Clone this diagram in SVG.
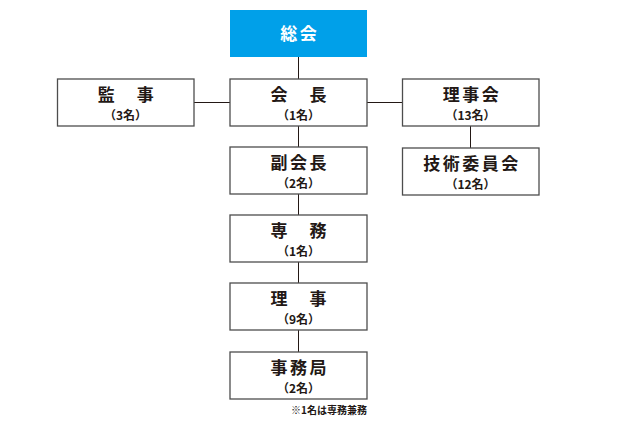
<svg xmlns="http://www.w3.org/2000/svg" width="620" height="430" viewBox="0 0 620 430">
<style>
.box{fill:#fff;stroke:#4d4d4d;stroke-width:1.3}
.t{font-family:"Noto Sans CJK JP","Noto Sans",sans-serif;font-weight:bold;font-size:17px;letter-spacing:2.5px;fill:#231815;text-anchor:middle}
.c{font-family:"Noto Sans CJK JP","Noto Sans",sans-serif;font-weight:bold;font-size:12px;fill:#231815;text-anchor:middle}
.ln{stroke:#231815;stroke-width:1;fill:none}
</style>
<rect width="620" height="430" fill="#fff"/>
<g id="connectors">
<line class="ln" x1="298.5" y1="57" x2="298.5" y2="352"/>
<line class="ln" x1="194" y1="102.5" x2="230" y2="102.5"/>
<line class="ln" x1="367" y1="102.5" x2="402" y2="102.5"/>
<line class="ln" x1="470.5" y1="126" x2="470.5" y2="148" stroke="#808080"/>
</g>
<g id="sokai">
<rect x="230" y="10" width="137" height="47" fill="#00a0e9"/>
<text class="t" x="299.75" y="39.5" style="fill:#fff">総会</text>
</g>
<g id="kaicho">
<rect class="box" x="230" y="79" width="137" height="47"/>
<text class="t" x="299.75" y="101">会　長</text>
<text class="c" x="298.5" y="120">（1名）</text>
</g>
<g id="kanji">
<rect class="box" x="57.5" y="79" width="136.5" height="47"/>
<text class="t" x="127" y="101">監　事</text>
<text class="c" x="125.5" y="120">（3名）</text>
</g>
<g id="rijikai">
<rect class="box" x="402.5" y="79" width="136.5" height="47"/>
<text class="t" x="472" y="101">理事会</text>
<text class="c" x="470.5" y="120">（13名）</text>
</g>
<g id="gijutsu">
<rect class="box" x="402.5" y="148" width="136.5" height="47"/>
<text class="t" x="472" y="170">技術委員会</text>
<text class="c" x="470.5" y="189">（12名）</text>
</g>
<g id="fukukaicho">
<rect class="box" x="230" y="147" width="137" height="47"/>
<text class="t" x="299.75" y="169">副会長</text>
<text class="c" x="298.5" y="188">（2名）</text>
</g>
<g id="senmu">
<rect class="box" x="230" y="215" width="137" height="47"/>
<text class="t" x="299.75" y="237">専　務</text>
<text class="c" x="298.5" y="256">（1名）</text>
</g>
<g id="riji">
<rect class="box" x="230" y="283" width="137" height="47"/>
<text class="t" x="299.75" y="305">理　事</text>
<text class="c" x="298.5" y="324">（9名）</text>
</g>
<g id="jimukyoku">
<rect class="box" x="230" y="352" width="137" height="47"/>
<text class="t" x="299.75" y="374">事務局</text>
<text class="c" x="298.5" y="393">（2名）</text>
</g>
<text x="367" y="414" font-family="Noto Sans CJK JP,sans-serif" font-weight="bold" font-size="10" fill="#231815" text-anchor="end">※1名は専務兼務</text>
</svg>
